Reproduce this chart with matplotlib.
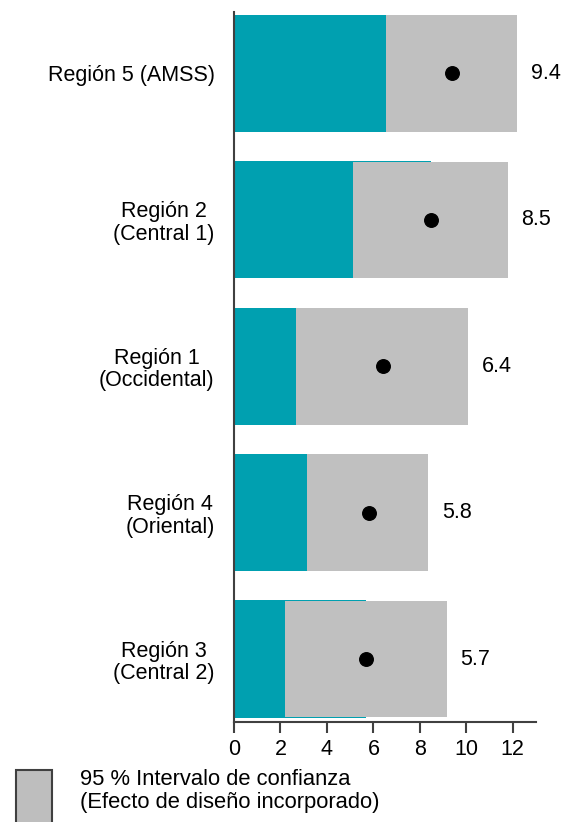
import matplotlib.pyplot as plt
from matplotlib.patches import Rectangle

plt.rcParams['font.family'] = ['Liberation Sans', 'DejaVu Sans']

# datos (de abajo hacia arriba)
regiones = ['Región 3\n(Central 2)', 'Región 4\n(Oriental)', 'Región 1\n(Occidental)',
            'Región 2\n(Central 1)', 'Región 5 (AMSS)']
estimacion = [5.7, 5.8, 6.4, 8.5, 9.4]
ic_inferior = [2.2, 3.15, 2.68, 5.14, 6.56]
ic_superior = [9.15, 8.37, 10.06, 11.78, 12.17]
etiquetas = ['5.7', '5.8', '6.4', '8.5', '9.4']

TEAL = '#00A0B0'
GRIS = '#C0C0C0'

fig = plt.figure(figsize=(5.62, 8.22), dpi=100)
ax = fig.add_axes([234 / 562, 1 - 722 / 822, 302 / 562, 710 / 822])

y = list(range(len(regiones)))
ax.barh(y, estimacion, height=0.8, color=TEAL, zorder=1)
ancho = [hi - lo for lo, hi in zip(ic_inferior, ic_superior)]
ax.barh(y, ancho, left=ic_inferior, height=0.797, color=GRIS, zorder=2)
ax.scatter(estimacion, y, s=95, color='black', zorder=3)

for yi, hi, txt in zip(y, ic_superior, etiquetas):
    ax.text(hi + 0.6, yi, txt, va='center', ha='left', fontsize=15.5)

ax.set_xlim(0, 13.0)
ax.set_ylim(-0.43, 4.42)
ax.set_xticks([0, 2, 4, 6, 8, 10, 12])
ax.set_yticks(y)
ax.set_yticklabels(regiones, fontsize=15.5, linespacing=1.1, ha='right',
                   multialignment='center')
ax.tick_params(axis='y', length=0, pad=14)
ax.tick_params(axis='x', length=8, width=1.5, color='#404040', labelsize=15.5, pad=4)

for s in ['top', 'right']:
    ax.spines[s].set_visible(False)
for s in ['left', 'bottom']:
    ax.spines[s].set_color('#404040')
    ax.spines[s].set_linewidth(1.5)

# leyenda
fig.patches.append(Rectangle((16 / 562, -0.01), 36 / 562, 1 - 770 / 822 + 0.01,
                             transform=fig.transFigure, facecolor='#BEBEBE',
                             edgecolor='#404040', linewidth=1.5))
fig.text(80 / 562, 1 - 791 / 822, '95 % Intervalo de confianza\n(Efecto de diseño incorporado)',
         fontsize=15.8, va='center', ha='left', linespacing=1.15)

fig.savefig('out.png', dpi=100)
